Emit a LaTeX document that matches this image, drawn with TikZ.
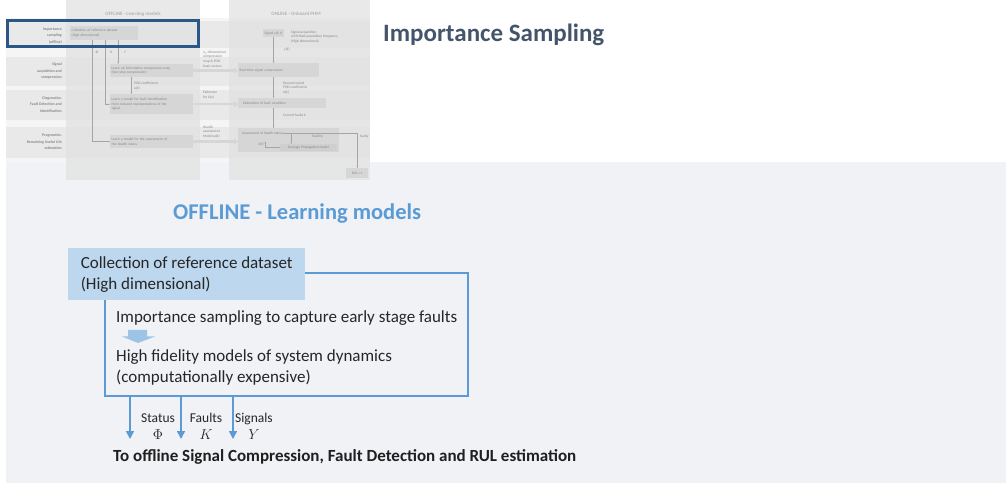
\documentclass[tikz,border=0pt]{standalone}
\usepackage{fontspec}
\setmainfont{Carlito}
\usepackage{tikz}
\usetikzlibrary{calc,backgrounds,arrows.meta}
\definecolor{panelgray}{RGB}{240,242,245}
\definecolor{titleblue}{RGB}{68,84,106}
\definecolor{accentblue}{RGB}{91,155,213}
\definecolor{paleblue}{RGB}{189,215,238}
\definecolor{arrowblue}{RGB}{157,195,230}
\definecolor{markblue}{RGB}{43,87,135}
\definecolor{thumbback}{RGB}{245,245,245}
\definecolor{thumbband}{RGB}{233,233,233}
\definecolor{thumbcol}{RGB}{226,226,226}
\definecolor{thumbbox}{RGB}{214,214,214}
\definecolor{thumbtext}{RGB}{135,135,135}
\definecolor{thumbline}{RGB}{165,165,165}
\tikzstyle{slide}=[
  x=1bp,y=-1bp,>=Stealth
]
\tikzstyle{tiny}=[
  font=\fontsize{3.6bp}{4.6bp}\selectfont,text=thumbtext,inner sep=0pt
]
\tikzstyle{rowlabel}=[
  tiny,font=\fontsize{3.9bp}{6.6bp}\selectfont\bfseries,align=right,anchor=east
]
\tikzstyle{tbox}=[
  tiny,fill=thumbbox,align=left,anchor=north west,inner xsep=1.5bp
]
\tikzstyle{tline}=[
  draw=thumbline,line width=0.4bp,->,>={Stealth[length=1.6bp,width=1.4bp]}
]
\tikzstyle{tarrow}=[
  draw=thumbbox,line width=2.4bp,->,>={Triangle[length=4bp,width=6bp]}
]
\tikzstyle{maintext}=[
  font=\fontsize{17bp}{21bp}\selectfont,text=black!85,inner sep=0pt,align=left
]
\tikzstyle{outarrow}=[
  draw=accentblue,line width=1.5bp,->,>={Triangle[length=8bp,width=8bp]}
]
\tikzstyle{outlabel}=[
  font=\fontsize{13.5bp}{17bp}\selectfont,text=black!85,inner sep=0pt,align=center
]
\begin{document}
\begin{tikzpicture}[slide]
  \useasboundingbox (0,0) rectangle (1006,485);
  % grey panel behind the detail view
  \fill[panelgray] (6,162) rectangle (1006,483);

  % thumbnail of the whole scheme
  \fill[thumbback] (6,18) rectangle (370,162);
  \foreach \ya/\yb in {21/48,57/86,90/120,127/158}
    \fill[thumbband] (6,\ya) rectangle (370,\yb);
  \fill[thumbcol,opacity=0.75] (66,0) rectangle (200,180);
  \fill[thumbcol,opacity=0.75] (229,0) rectangle (370,180);
  \node (offtitle) at (133,14) [tiny,font=\fontsize{5bp}{6bp}\selectfont\bfseries,text=black!30] {OFFLINE - Learning models};
  \node (ontitle) at (296,14) [tiny,font=\fontsize{5bp}{6bp}\selectfont\bfseries,text=black!30] {ONLINE - Onboard PHM};

  \node (rowis) at (62,36) [rowlabel] {Importance\\sampling\\(offline)};
  \node (rowsig) at (62,71) [rowlabel] {Signal\\acquisition and\\compression};
  \node (rowdiag) at (62,104.5) [rowlabel] {Diagnostics:\\Fault Detection and\\Identification};
  \node (rowprog) at (62,142) [rowlabel] {Prognostics:\\Remaining Useful Life\\estimation};

  % offline boxes
  \node (ds) at (70,26) [tbox,text width=65bp,minimum height=14bp] {Collection of reference dataset\\(High dimensional)};
  \node (cmap) at (110,64) [tbox,text width=80bp,minimum height=13bp] {Learn an informative compression map\\(two-step compression)};
  \node (fault) at (110,94) [tbox,text width=80bp,minimum height=20bp] {Learn a model for fault identification\\from reduced representations of the\\signal};
  \node (health) at (110,135) [tbox,text width=80bp,minimum height=13bp] {Learn a model for the assessment of\\the health status};

  \coordinate (phix) at ($(ds.south west)+(22,0)$);
  \coordinate (kx) at ($(ds.south west)+(35,0)$);
  \coordinate (yx) at ($(ds.south west)+(48,0)$);
  \draw[tline] (phix) |- (health.west);
  \draw[tline] (kx) |- (fault.west);
  \draw[tline] (yx) -- (yx |- cmap.north);
  \node (phit) at (97,52) [tiny] {Φ};
  \node (kt0) at (111,52) [tiny] {\textit{K}};
  \node (yt) at (125,52) [tiny] {\textit{Y}};
  \draw[tline] ([xshift=-20.5bp]cmap.south) -- ([xshift=-20.5bp]fault.north);
  \node (podoff) at (134,86) [tiny,anchor=west,align=left] {POD coefficients\\\textit{a}(\textit{k})};

  % between the columns
  \node (mapinfo) at (203,59) [tiny,anchor=west,align=left] {\textit{n\textsubscript{a}}-dimensional\\compression\\map \& POD\\basis vectors};
  \node (estinfo) at (203,95) [tiny,anchor=west,align=left] {Estimator\\for \textit{k}(\textit{a})};
  \node (modinfo) at (203,132) [tiny,anchor=west,align=left] {Health\\assessment\\Model \textit{φ}(\textit{k})};

  % online boxes
  \node (sig) at (263,29) [tbox,minimum height=8bp] {Signal \textit{y}(\textit{k}, \textit{t})};
  \node (siginfo) at (291,37) [tiny,anchor=west,align=left] {Signal acquisition\\with fixed acquisition frequency\\(High dimensional)};
  \node (rt) at (238,63) [tbox,text width=78bp,minimum height=14bp] {Real-time signal compression};
  \node (est) at (238,98) [tbox,text width=78bp,minimum height=10bp,inner xsep=5bp] {Estimation of fault condition};
  \node (assess) at (238,128) [tbox,minimum width=101bp,minimum height=24bp] {};
  \node (asstxt) at ($(assess.north west)+(4,5)$) [tiny,anchor=west] {Assessment of health status};
  \node (damage) at (280,144) [tbox,fill=black!19,minimum width=55bp,minimum height=7bp,inner xsep=8bp] {Damage Propagation model};
  \node (ktt) at (262,144) [tiny] {\textit{k}(\textit{t})\textsuperscript{+}};
  \node (rul) at (346,168) [tbox,minimum width=22bp,minimum height=10bp,inner xsep=3bp] {\textit{RUL} = \textit{t}};

  \draw[tline] (sig.south) -- (sig.south |- rt.north);
  \node (yk) at (284,49) [tiny,anchor=west] {\textit{y}(\textit{k})};
  \draw[tline] (sig.south |- rt.south) -- (sig.south |- est.north);
  \node (podon) at (283,88) [tiny,anchor=west,align=left] {Reconstructed\\POD coefficients\\\textit{a}(\textit{k})};
  \draw[tline] (sig.south |- est.south) -- (sig.south |- assess.north);
  \node (curk) at (283,115) [tiny,anchor=west] {Current faults \textit{k}};
  \coordinate (healthyx) at ($(asstxt.east)+(8,0)$);
  \draw[tline] (asstxt.east) -| (rul.north);
  \draw[tline] (healthyx) -- (healthyx |- damage.north);
  \node (healthy) at (312,137) [tiny,anchor=west] {healthy};
  \node (faulty) at (360,137) [tiny,anchor=west] {faulty};
  \draw[tline] (damage.west) -| (ktt.north east);

  \draw[tarrow] (cmap.east) -- (cmap.east -| rt.west);
  \draw[tarrow] (fault.east) -- (fault.east -| est.west);
  \draw[tarrow] (health.east) -- (health.east -| assess.west);

  % marker on the current step
  \draw[markblue,line width=3bp] (7.5,20.5) rectangle (198.5,46.5);

  \node (title) at (383,35) [anchor=west,inner sep=0pt,font=\fontsize{25bp}{29bp}\selectfont\bfseries,text=titleblue] {Importance Sampling};

  % detail view
  \node (offline) at (173,214) [anchor=west,inner sep=0pt,font=\fontsize{22.5bp}{26bp}\selectfont\bfseries,text=accentblue] {OFFLINE - Learning models};
  \node (frame) at (286.5,334.5) [draw=accentblue,line width=1.3bp,minimum width=363bp,minimum height=123bp,inner sep=0pt] {};
  \node (dataset) at (68,248) [maintext,anchor=north west,fill=paleblue,minimum width=237bp,minimum height=52bp] {Collection of reference dataset\\(High dimensional)};
  \node (sampling) at (116,318) [maintext,anchor=west] {Importance sampling to capture early stage faults};
  \node (fidelity) at (116,367.5) [maintext,anchor=west] {High fidelity models of system dynamics\\(computationally expensive)};
  \fill[arrowblue] (128,330) -- (147,330) -- (147,336.5) -- (155,336.5) -- (138,343) -- (122,336.5) -- (128,336.5) -- cycle;

  \coordinate (statustop) at (130,396);
  \coordinate (statusend) at (130,439);
  \coordinate (faultstop) at (181,396);
  \coordinate (faultsend) at (181,439);
  \coordinate (signalstop) at (233,396);
  \coordinate (signalsend) at (233,439);
  \draw[outarrow] (statustop) -- (statusend);
  \draw[outarrow] (faultstop) -- (faultsend);
  \draw[outarrow] (signalstop) -- (signalsend);
  \node (status) at (158,426.5) [outlabel] {Status\\$\Phi$};
  \node (faults) at (206,426.5) [outlabel] {Faults\\$K$};
  \node (signals) at (254,426.5) [outlabel] {Signals\\$Y$};
  \node (target) at (113,457) [anchor=west,inner sep=0pt,font=\fontsize{17bp}{20bp}\selectfont\bfseries,text=black!88] {To offline Signal Compression, Fault Detection and RUL estimation};
\end{tikzpicture}
\end{document}
